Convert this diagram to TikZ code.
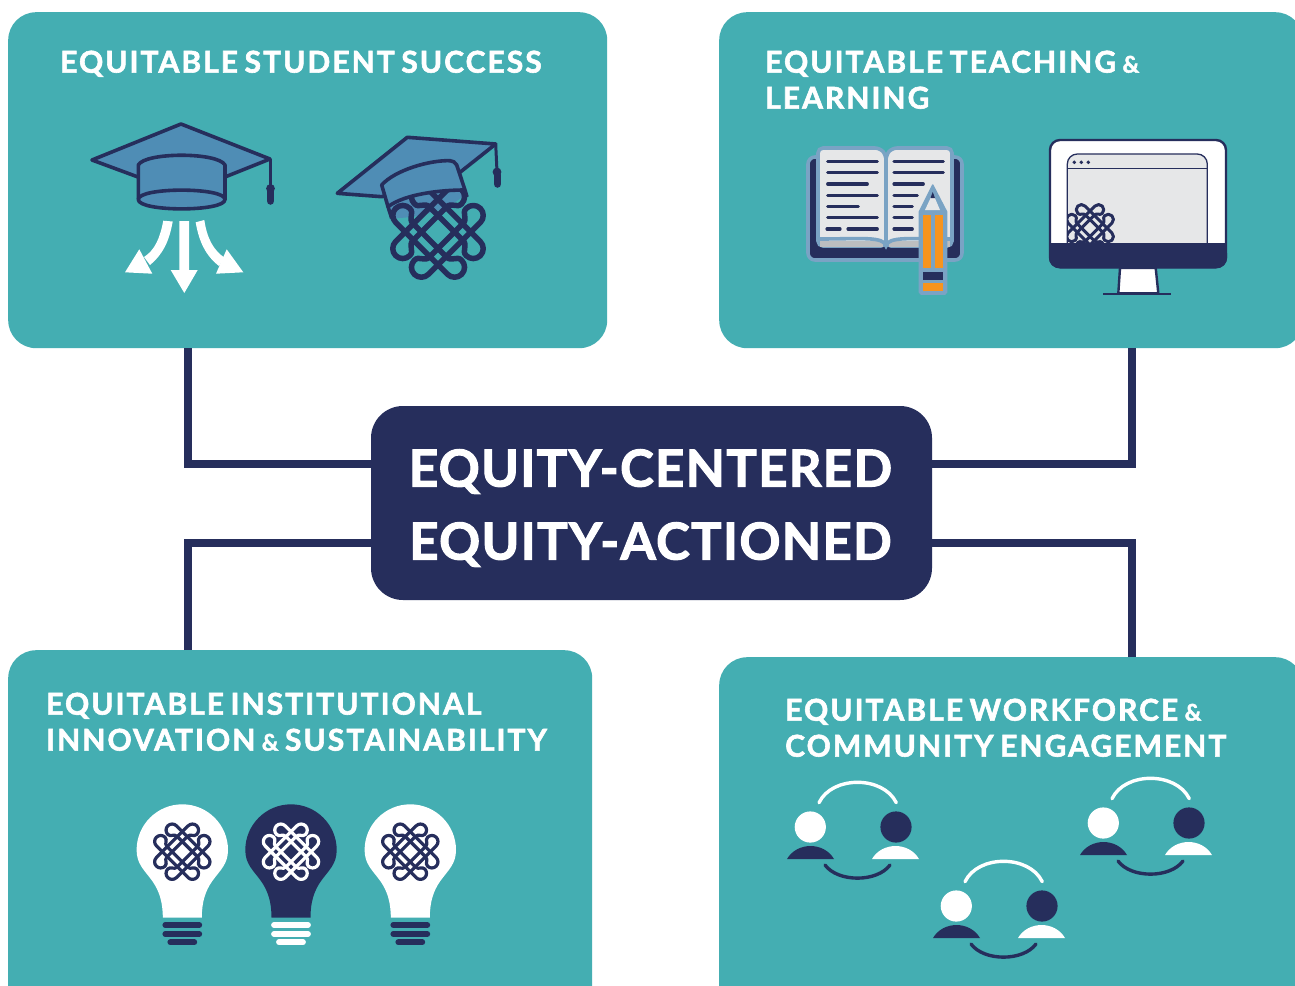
\documentclass[tikz,border=0pt]{standalone}
\usepackage{fontspec}
\setmainfont{Lato}
\newfontfamily\titlefont{Lato}[LetterSpace=6.8,WordSpace=0.7,BoldFeatures={FakeBold=2}]
\newfontfamily\hubfont{Lato}[LetterSpace=2.5,BoldFeatures={FakeBold=2}]
\definecolor{tealbg}{HTML}{44AEB2}
\definecolor{navy}{HTML}{262E5C}
\definecolor{capblue}{HTML}{4F8DB5}
\definecolor{steel}{HTML}{7AA3C4}
\definecolor{paper}{HTML}{E6E7E8}
\definecolor{stripgray}{HTML}{BCBEC0}
\definecolor{pencilor}{HTML}{F7941E}
\newcommand{\knotshape}[5]{% x, y, scale, colour, line width
  \begin{scope}[shift={(#1,#2)},x=#3pt,y=#3pt,draw=#4,line width=#5pt,line join=round]
    \foreach \rr in {0,90,180,270}{
      \draw[rotate=\rr] (-.2,.6) -- (.6,-.2) .. controls (.73,-.33) and (.56,-.45) .. (.68,-.57)
        arc[start angle=225,end angle=405,radius=.24]
        -- (-.23,1.02) arc[start angle=45,end angle=225,radius=.24]
        .. controls (-.45,.56) and (-.33,.73) .. (-.2,.6) -- cycle;
    }
  \end{scope}}
\newcommand{\bulbshape}[3]{% x, fill, bars
  \begin{scope}[shift={(#1,0)}]
    \fill[#2] (-19.5,917.7) .. controls (-19.5,902) and (-23,891) .. (-30,881)
      .. controls (-38,870) and (-45.7,864) .. (-45.7,850)
      .. controls (-45.7,824.8) and (-25.2,804.3) .. (0,804.3)
      .. controls (25.2,804.3) and (45.7,824.8) .. (45.7,850)
      .. controls (45.7,864) and (38,870) .. (30,881)
      .. controls (23,891) and (19.5,902) .. (19.5,917.7) -- cycle;
    \draw[#3,line width=5.8pt,line cap=round] (-17,925) -- (17,925);
    \draw[#3,line width=5.8pt,line cap=round] (-17,934) -- (17,934);
    \draw[#3,line width=5.8pt,line cap=round] (-12,942.3) -- (12,942.3);
  \end{scope}}
\newcommand{\peoplegroup}[2]{% dx, dy
  \begin{scope}[shift={(#1,#2)}]
    \fill[white] (810.3,827) circle[radius=15.6pt];
    \fill[navy] (896,827) circle[radius=15.6pt];
    \fill[navy] (787,859) .. controls (797,841.7) and (824,841.7) .. (834,859) -- cycle;
    \fill[white] (872,859) .. controls (882,841.7) and (909,841.7) .. (919,859) -- cycle;
    \draw[white,line width=3.4pt,line cap=round] (819,802.7) .. controls (832,775.5) and (883,775.5) .. (896.3,802.7);
    \draw[navy,line width=3.4pt,line cap=round] (825,865) .. controls (838,882.5) and (877,882.5) .. (890,865);
  \end{scope}}
\tikzset{
  panel/.style={rectangle,rounded corners=28pt,fill=tealbg,anchor=north west,inner sep=0pt},
  hubbox/.style={rectangle,rounded corners=32pt,fill=navy,inner sep=0pt},
  title/.style={anchor=north west,inner sep=0pt,text=white,align=left,
    font=\fontsize{30}{36}\titlefont\bfseries},
  conn/.style={draw=navy,line width=8pt},
  outl/.style={draw=navy,line width=3.6pt,line join=round},
  bookline/.style={navy,line width=3.2pt,line cap=round}
}
\newcommand{\amp}{{\fontsize{23}{23}\selectfont\&}}
\begin{document}
\begin{tikzpicture}[x=1pt,y=-1pt]
\useasboundingbox (0,0) rectangle (1295,985);
\fill[white] (0,0) rectangle (1295,985);
% panels
\node[panel,minimum width=599pt,minimum height=336pt] (p1) at (8,12) {};
\node[panel,minimum width=584pt,minimum height=336pt] (p2) at (719,12) {};
\node[panel,minimum width=584pt,minimum height=370pt] (p3) at (8,650) {};
\node[panel,minimum width=584pt,minimum height=363pt] (p4) at (719,657) {};
\node[hubbox,minimum width=561pt,minimum height=194pt] (hub) at (651.5,503) {};
\node[text=white,align=center,inner sep=0pt,font=\fontsize{51}{73}\hubfont\bfseries] (hubtext) at (650.5,508) {EQUITY-CENTERED\\EQUITY-ACTIONED};
% connectors
\draw[conn] (188,0 |- p1.south) |- (hub.west |- 0,464);
\draw[conn] (1132,0 |- p2.south) |- (hub.east |- 0,464);
\draw[conn] (188,0 |- p3.north) |- (hub.west |- 0,543);
\draw[conn] (1132,0 |- p4.north) |- (hub.east |- 0,543);
% titles
\node[title] (t1) at (60,50.5) {EQUITABLE STUDENT SUCCESS};
\node[title] (t2) at (765,50.5) {EQUITABLE TEACHING \amp\\LEARNING};
\node[title] (t3) at (46,692.5) {EQUITABLE INSTITUTIONAL\\INNOVATION \amp\ SUSTAINABILITY};
\node[title] (t4) at (785,698.5) {EQUITABLE WORKFORCE \amp\\COMMUNITY ENGAGEMENT};
% cap 1
\filldraw[fill=capblue,outl] (92,160) -- (181,124) -- (270,159) -- (225,177) -- (138,177) -- cycle;
\filldraw[fill=capblue,outl] (138.3,199.5) -- (138.3,165) .. controls (145,152) and (218,152) .. (225,165) -- (225,199.5)
  .. controls (225,212) and (138.3,212) .. (138.3,199.5) -- cycle;
\draw[outl] (138.3,199.5) .. controls (138.3,187) and (225,187) .. (225,199.5);
\draw[navy,line width=3pt] (270,159) -- (270,188);
\fill[navy] (270.5,188.5) circle[radius=4.4pt];
\draw[navy,line width=7.5pt,line cap=round] (270.5,191) -- (270.5,201);
% arrows 1
\fill[white] (179.3,221) -- (189,221) -- (189,270) -- (197.7,270) -- (184.3,293) -- (170.7,270) -- (179.3,270) -- cycle;
\fill[white] (163.3,220.7) -- (172.7,221.5) .. controls (169,242) and (163,254) .. (150,265) -- (144,257) .. controls (155,250) and (160,238) .. (163.3,220.7) -- cycle;
\fill[white] (125,272.3) -- (139.3,249.3) -- (152.3,273.7) -- cycle;
\fill[white] (204.3,220) -- (195.7,222.3) .. controls (199,242) and (206,256) .. (219,266) -- (225,258) .. controls (213,250) and (207,238) .. (204.3,220) -- cycle;
\fill[white] (243.3,272.3) -- (226.7,249.3) -- (216,273.7) -- cycle;
% cap 2
\filldraw[fill=capblue,outl] (337.3,193.3) -- (407.3,137.3) -- (495.7,144) -- (460,172.3) -- (381.7,196.7) -- cycle;
\fill[capblue] (388,206.7) .. controls (405,194) and (440,190) .. (466,191) -- (466,193.3) .. controls (450,210) and (420,218) .. (391.7,218.3) -- cycle;
\knotshape{438}{232}{41.5}{navy}{5.5}
\filldraw[fill=capblue,outl] (381.7,185) .. controls (395,170) and (430,160) .. (450,160.7) .. controls (453,161) and (455,162) .. (456.7,165)
  -- (465,190) .. controls (440,190) and (405,194) .. (388,206.7) -- cycle;
\draw[outl] (388,206.7) -- (391.7,218.3);
\draw[outl] (465,190) -- (467,197);
\draw[navy,line width=3pt] (495.7,144) -- (497,172);
\fill[navy] (497,172) circle[radius=4.4pt];
\draw[navy,line width=7.5pt,line cap=round] (497.5,175) -- (497.5,184);
% book
\filldraw[fill=navy,draw=steel,line width=3.6pt,rounded corners=7pt] (808,157) rectangle (962,260);
\filldraw[fill=paper,draw=steel,line width=3.6pt,rounded corners=5pt] (818,148) -- (880,148) -- (886,155) -- (886,246) -- (818,246) -- cycle;
\filldraw[fill=paper,draw=steel,line width=3.6pt,rounded corners=5pt] (952,148) -- (892,148) -- (886,155) -- (886,246) -- (952,246) -- cycle;
\fill[stripgray] (820,241) rectangle (883,247);
\fill[stripgray] (889,241) rectangle (950,247);
\draw[steel,line width=3.6pt,line cap=round] (819,239) .. controls (860,239) and (884,236) .. (886,246) .. controls (888,236) and (912,239) .. (951,239);
\foreach \yy/\xx in {161.7/877.3,172.7/877.3,184/867.3,195.3/877.3,206.7/858.3,217.7/877.3}{
  \draw[bookline] (827.7,\yy) -- (\xx,\yy);}
\draw[bookline] (827,229) -- (840,229);
\draw[bookline] (848,229) -- (877.3,229);
\foreach \yy/\xx in {161.7/943.3,172.7/943.3,184/923.3,195.3/917.3,206.7/912.3,217.7/912.3,229/912.3}{
  \draw[bookline] (894,\yy) -- (\xx,\yy);}
% pencil
\filldraw[fill=steel,draw=steel,line width=1.5pt,line join=round] (932.7,185) -- (946.7,212) -- (946.7,292) -- (945,294) -- (921,294) -- (919.3,292) -- (919.3,212) -- cycle;
\fill[paper] (925,210) -- (940,210) -- (934,196) -- (931.5,196) -- cycle;
\fill[navy] (932.7,192) -- (935,198) -- (930.5,198) -- cycle;
\fill[pencilor] (922.7,215) rectangle (931,268.3);
\fill[pencilor] (935,215) rectangle (943.3,268.3);
\fill[navy] (922.7,272.3) rectangle (942.7,280);
\fill[pencilor] (922.7,283.3) rectangle (942.7,291.3);
% monitor
\filldraw[fill=white,draw=navy,line width=2.4pt,rounded corners=10pt] (1050,140) rectangle (1226,267.3);
\filldraw[fill=paper,draw=navy,line width=1.3pt,rounded corners=10pt] (1067.3,260) -- (1067.3,154) -- (1207.3,154) -- (1207.3,260);
\fill[white] (1060,244) rectangle (1215,262);
\begin{scope}
  \clip (1067.8,150) rectangle (1210,243.3);
  \knotshape{1090}{228}{21.5}{navy}{3}
\end{scope}
\draw[navy,line width=1.3pt] (1067.3,168.3) -- (1207.3,168.3);
\foreach \xx in {1074.3,1081.3,1088.3}{\fill[navy] (\xx,162.3) circle[radius=1.9pt];}
\fill[navy,rounded corners=10pt] (1049,243.3) -- (1049,268) -- (1227,268) -- (1227,243.3) -- cycle;
\fill[navy] (1049,243.3) rectangle (1227,255);
\filldraw[fill=white,draw=navy,line width=2.4pt] (1120,268) -- (1155.7,268) -- (1158.3,293.3) -- (1118.3,293.3) -- cycle;
\draw[navy,line width=2.4pt] (1103.3,293.7) -- (1170.7,293.7);
% bulbs
\bulbshape{182.3}{white}{navy}
\bulbshape{291}{navy}{white}
\bulbshape{410.3}{white}{navy}
\knotshape{182.3}{851.7}{25.4}{navy}{3.2}
\knotshape{291}{851.7}{25.4}{white}{3.2}
\knotshape{410.3}{851.7}{25.4}{navy}{3.2}
% people
\peoplegroup{0}{0}
\peoplegroup{293}{-4}
\peoplegroup{146}{79}
\end{tikzpicture}
\end{document}
